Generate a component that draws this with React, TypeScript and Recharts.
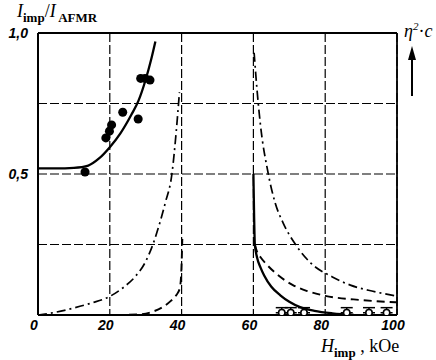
import React from 'react';
import {
  ComposedChart, Line, Scatter, XAxis, YAxis, CartesianGrid,
  ReferenceLine, ErrorBar
} from 'recharts';

// fit through the measured points (below the first transition)
const fitX = [0, 5, 10, 14, 17, 20, 23, 26, 28, 30, 31.5, 32.7];
const fitY = [0.52, 0.52, 0.522, 0.53, 0.555, 0.595, 0.645, 0.71, 0.76, 0.835, 0.905, 0.97];

// measured points, filled circles
const dotX = [13.1, 18.9, 19.9, 20.5, 23.6, 27.9, 28.6, 29.8, 31.2];
const dotY = [0.507, 0.628, 0.652, 0.674, 0.719, 0.695, 0.839, 0.839, 0.833];

// dash-dot curve
const ddLeftX = [0, 5, 10, 15, 20, 24, 27, 30, 32, 34, 35.5, 37.3, 38.5, 39.4];
const ddLeftY = [0, 0.01, 0.025, 0.043, 0.066, 0.1, 0.135, 0.19, 0.25, 0.33, 0.4, 0.5, 0.65, 0.79];
const ddRightX = [60.2, 61, 62, 64, 66, 68.3, 72, 76, 82, 87, 93, 100];
const ddRightY = [0.93, 0.8, 0.67, 0.51, 0.4, 0.326, 0.245, 0.184, 0.135, 0.106, 0.085, 0.067];

// dashed curve
const dLeftX = [0, 20, 28, 32, 35, 37, 38.5, 39.5, 39.9, 40.2];
const dLeftY = [0, 0, 0.002, 0.012, 0.03, 0.05, 0.07, 0.095, 0.15, 0.27];
const dRightX = [60.4, 61, 62, 64, 67, 71, 75, 80, 90, 100];
const dRightY = [0.25, 0.225, 0.205, 0.175, 0.14, 0.106, 0.085, 0.068, 0.053, 0.045];

// solid curve above the second transition
const sRightX = [60, 60.2, 60.4, 61, 62, 63, 65, 67.5, 70, 73, 77, 82, 88];
const sRightY = [0.5, 0.35, 0.25, 0.205, 0.168, 0.14, 0.1, 0.07, 0.047, 0.028, 0.015, 0.006, 0];

// open circles on the axis with small error bars
const openX = [67.9, 70.4, 74.1, 86, 92.2, 97.1];
const openY = [0.008, 0.008, 0.008, 0.008, 0.008, 0.008];
const openErr = [0.018, 0.018, 0.018, 0.018, 0.018, 0.018];

const xTicks = [0, 20, 40, 60, 80, 100];
const yTicks = [0, 0.25, 0.5, 0.75, 1];

const pts = (xs: number[], ys: number[]) => xs.map((x, i) => ({ x, y: ys[i] }));

const fit = pts(fitX, fitY);
const dots = pts(dotX, dotY);
const ddLeft = pts(ddLeftX, ddLeftY);
const ddRight = pts(ddRightX, ddRightY);
const dLeft = pts(dLeftX, dLeftY);
const dRight = pts(dRightX, dRightY);
const sRight = pts(sRightX, sRightY);
const open = openX.map((x, i) => ({ x, y: openY[i], err: [0, openErr[i]] }));

const tickFont = {
  fontFamily: '"Liberation Sans", Arial, sans-serif', fontStyle: 'italic',
  fontWeight: 700, fontSize: 14, fill: '#000'
};
const serif = '"Liberation Serif", "DejaVu Serif", serif';

const DASH_DOT = '9 4 2 4';
const DASHED = '8 5';

const OpenCircle = (props: any) => (
  <circle cx={props.cx} cy={props.cy} r={3.2} fill="#fff" stroke="#000" strokeWidth={1.6} />
);

export default function App() {
  return (
    <div style={{ position: 'absolute', left: 0, top: 0, width: 436, height: 360, background: '#fff' }}>
      <ComposedChart width={436} height={360} margin={{ top: 33, right: 39, bottom: 15, left: 0 }}>
        <CartesianGrid stroke="#000" strokeWidth={1.2} strokeDasharray="9 3" />
        <XAxis
          type="number" dataKey="x" domain={[0, 100]} ticks={xTicks} height={30}
          axisLine={{ stroke: '#000', strokeWidth: 2 }} tickLine={false}
          tick={tickFont} dx={-4} dy={-3} allowDataOverflow
        />
        <YAxis
          type="number" dataKey="y" domain={[0, 1]} ticks={yTicks} width={38}
          axisLine={{ stroke: '#000', strokeWidth: 2 }} tickLine={false}
          tick={tickFont} dx={-2}
          tickFormatter={(v: number) => (v === 0.5 ? '0,5' : v === 1 ? '1,0' : '')}
          allowDataOverflow
        />
        <ReferenceLine y={1} stroke="#000" strokeWidth={1.8} />
        <ReferenceLine x={100} stroke="#000" strokeWidth={1.8} />

        <Line data={ddLeft} dataKey="y" type="monotone" stroke="#000" strokeWidth={1.7}
          strokeDasharray={DASH_DOT} dot={false} isAnimationActive={false} />
        <Line data={ddRight} dataKey="y" type="monotone" stroke="#000" strokeWidth={1.7}
          strokeDasharray={DASH_DOT} dot={false} isAnimationActive={false} />
        <Line data={dLeft} dataKey="y" type="monotone" stroke="#000" strokeWidth={1.9}
          strokeDasharray={DASHED} dot={false} isAnimationActive={false} />
        <Line data={dRight} dataKey="y" type="monotone" stroke="#000" strokeWidth={1.9}
          strokeDasharray={DASHED} dot={false} isAnimationActive={false} />
        <Line data={fit} dataKey="y" type="monotone" stroke="#000" strokeWidth={2.3}
          dot={false} isAnimationActive={false} />
        <Line data={sRight} dataKey="y" type="monotone" stroke="#000" strokeWidth={2.3}
          dot={false} isAnimationActive={false} />

        <Scatter data={dots} dataKey="y" fill="#000" isAnimationActive={false} />
        <Scatter data={open} dataKey="y" shape={OpenCircle} isAnimationActive={false}>
          <ErrorBar dataKey="err" direction="y" width={6} stroke="#000" strokeWidth={1.5} />
        </Scatter>
      </ComposedChart>

      <div style={{ position: 'absolute', left: 17, top: 1, fontFamily: serif, fontSize: 18, whiteSpace: 'nowrap' }}>
        <i>I</i><sub style={{ fontSize: 13, fontWeight: 'bold' }}>imp</sub>/<i>I</i>
        <sub style={{ fontSize: 13, fontWeight: 'bold' }}> AFMR</sub>
      </div>
      <div style={{ position: 'absolute', left: 404, top: 20, fontFamily: serif, fontSize: 18, whiteSpace: 'nowrap' }}>
        <i>η</i><sup style={{ fontSize: 11, fontStyle: 'italic' }}>2</sup>·<i>c</i>
      </div>
      <div style={{ position: 'absolute', left: 321, top: 336, fontFamily: serif, fontSize: 18, whiteSpace: 'nowrap' }}>
        <i>H</i><sub style={{ fontSize: 13, fontWeight: 'bold' }}>imp</sub> , kOe
      </div>
      <svg style={{ position: 'absolute', left: 405, top: 46 }} width={14} height={52}>
        <line x1={7} y1={10} x2={7} y2={50} stroke="#000" strokeWidth={2} />
        <polygon points="7,0 3,14 11,14" fill="#000" />
      </svg>
    </div>
  );
}
